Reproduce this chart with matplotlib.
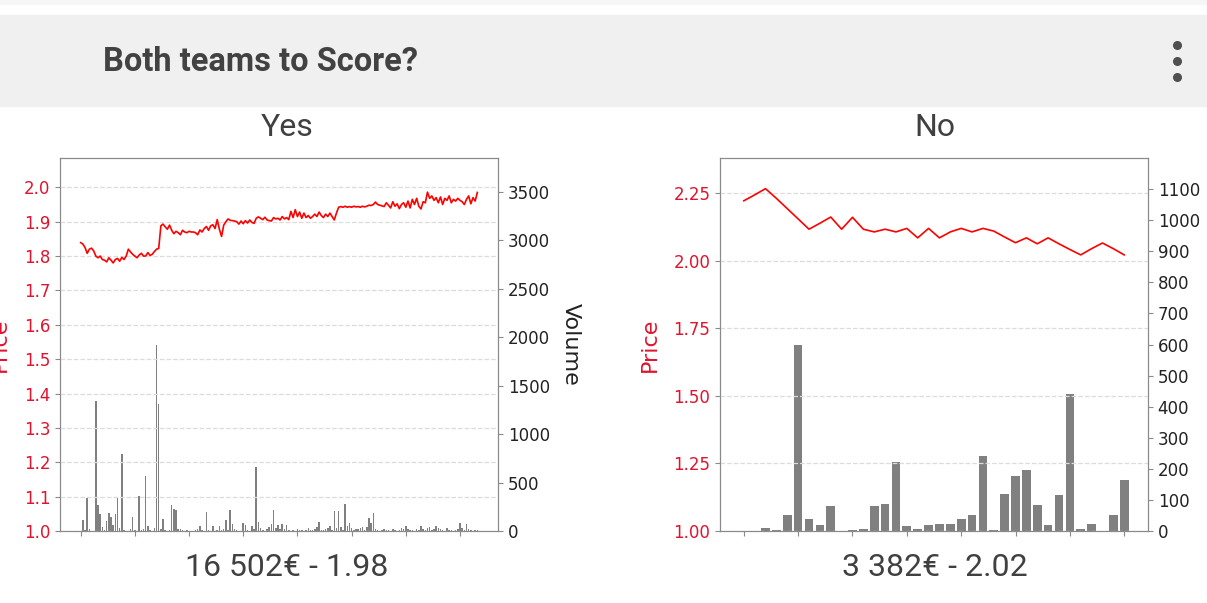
import matplotlib
matplotlib.use("Agg")
import matplotlib.pyplot as plt
from matplotlib.patches import Rectangle
from matplotlib.lines import Line2D

# --- data ---
title = "Both teams to Score?"

yes_name = "Yes"
yes_footer = "16 502€ - 1.98"
yes_price = [
    1.839, 1.835, 1.825, 1.808, 1.820, 1.823, 1.815, 1.800, 1.795, 1.800,
    1.790, 1.788, 1.783, 1.795, 1.788, 1.780, 1.790, 1.793, 1.785, 1.796,
    1.790, 1.800, 1.820, 1.812, 1.805, 1.800, 1.795, 1.803, 1.808, 1.800,
    1.800, 1.810, 1.802, 1.805, 1.813, 1.820, 1.822, 1.888, 1.893, 1.885,
    1.878, 1.890, 1.875, 1.865, 1.872, 1.868, 1.862, 1.875, 1.870, 1.868,
    1.872, 1.870, 1.870, 1.868, 1.862, 1.876, 1.870, 1.880, 1.886, 1.875,
    1.888, 1.891, 1.880, 1.906, 1.878, 1.857, 1.890, 1.900, 1.908, 1.904,
    1.903, 1.902, 1.900, 1.893, 1.902, 1.894, 1.903, 1.896, 1.905, 1.898,
    1.895, 1.910, 1.914, 1.910, 1.906, 1.913, 1.905, 1.903, 1.902, 1.912,
    1.908, 1.910, 1.905, 1.915, 1.908, 1.912, 1.906, 1.930, 1.912, 1.935,
    1.915, 1.928, 1.910, 1.925, 1.912, 1.918, 1.910, 1.915, 1.922, 1.915,
    1.928, 1.918, 1.912, 1.922, 1.915, 1.925, 1.915, 1.905, 1.925, 1.942,
    1.944, 1.942, 1.945, 1.942, 1.944, 1.942, 1.945, 1.943, 1.944, 1.942,
    1.945, 1.943, 1.945, 1.948, 1.947, 1.950, 1.957, 1.950, 1.948, 1.946,
    1.944, 1.955, 1.948, 1.940, 1.958, 1.945, 1.952, 1.938, 1.950, 1.955,
    1.942, 1.960, 1.940, 1.965, 1.950, 1.968, 1.945, 1.937, 1.958, 1.955,
    1.986, 1.968, 1.975, 1.962, 1.970, 1.955, 1.972, 1.950, 1.968, 1.962,
    1.975, 1.955, 1.965, 1.960, 1.968, 1.962, 1.958, 1.950, 1.965, 1.975,
    1.952, 1.970, 1.960, 1.985,
]
yes_volume = [
    0, 110, 10, 340, 20, 5, 0, 1345, 265, 180,
    40, 15, 100, 190, 140, 60, 180, 355, 30, 796,
    10, 5, 0, 20, 142, 10, 0, 360, 15, 20,
    565, 55, 10, 5, 30, 1925, 1315, 20, 124, 10,
    5, 15, 270, 230, 212, 25, 20, 10, 5, 8,
    5, 0, 5, 10, 20, 55, 10, 5, 200, 10,
    5, 55, 5, 15, 52, 10, 20, 110, 15, 215,
    75, 20, 10, 5, 5, 80, 60, 10, 5, 50,
    20, 660, 95, 30, 10, 5, 20, 40, 75, 215,
    30, 65, 20, 70, 20, 60, 10, 5, 15, 5,
    20, 10, 15, 5, 10, 30, 15, 10, 20, 40,
    97, 15, 10, 20, 30, 52, 10, 207, 30, 207,
    40, 10, 283, 50, 86, 30, 10, 20, 25, 30,
    41, 15, 40, 138, 80, 190, 20, 10, 5, 10,
    20, 15, 10, 5, 20, 10, 5, 15, 30, 20,
    52, 25, 10, 15, 5, 20, 15, 50, 20, 10,
    30, 40, 15, 20, 55, 30, 20, 10, 5, 30,
    15, 10, 5, 10, 20, 86, 30, 15, 76, 20,
    10, 5, 10, 15,
]
yes_ticks = [0, 25, 50, 75, 100, 125, 150, 175]
yes_price_ticks = [1.0, 1.1, 1.2, 1.3, 1.4, 1.5, 1.6, 1.7, 1.8, 1.9, 2.0]
yes_volume_ticks = [0, 500, 1000, 1500, 2000, 2500, 3000, 3500]

no_name = "No"
no_footer = "3 382€ - 2.02"
no_price = [
    2.221, 2.243, 2.266, 2.230, 2.192, 2.154, 2.116, 2.138, 2.161, 2.116,
    2.160, 2.116, 2.106, 2.116, 2.106, 2.119, 2.084, 2.119, 2.084, 2.106,
    2.119, 2.106, 2.119, 2.109, 2.087, 2.066, 2.084, 2.062, 2.084, 2.062,
    2.041, 2.021, 2.044, 2.065, 2.044, 2.021,
]
no_volume = [
    1, 1, 9, 4, 53, 600, 40, 18, 80, 0,
    4, 5, 80, 88, 222, 16, 5, 20, 22, 24,
    37, 50, 240, 3, 120, 177, 195, 85, 20, 115,
    440, 8, 24, 0, 50, 165,
]
no_ticks = [0, 5, 10, 15, 20, 25, 30, 35]
no_price_ticks = [1.00, 1.25, 1.50, 1.75, 2.00, 2.25]
no_volume_ticks = list(range(0, 1200, 100))

PRICE_RED = "#e0142e"
TEXT_GREY = "#404040"
SPINE_GREY = "#8a8a8a"

W, H = 1207, 603


def px(x, y):
    """pixel (from top-left) -> figure fraction"""
    return x / W, 1 - y / H


def draw_market(fig, rect, text_x, name, footer, price, volume, xticks,
                price_ticks, price_fmt, volume_ticks, bar_width=0.8):
    ax = fig.add_axes(rect)
    ax2 = ax.twinx()
    xs = list(range(len(price)))

    ax.plot(xs, price, color="red", linewidth=1.2, zorder=3)
    ax2.bar(xs, volume, width=bar_width, color="grey")

    ax.set_ylim(1, max(price) * 1.05)
    ax2.set_ylim(0, max(volume) * 2)

    ax.set_yticks(price_ticks)
    ax.set_yticklabels([price_fmt.format(v) for v in price_ticks])
    ax2.set_yticks(volume_ticks)
    ax.set_xticks(xticks)
    ax.set_xticklabels([])

    ax.grid(axis="y", linestyle="--", color="#dcdcdc", linewidth=0.9)
    ax.tick_params(axis="y", colors=SPINE_GREY, labelcolor=PRICE_RED, labelsize=12)
    ax.tick_params(axis="x", colors=SPINE_GREY)
    ax2.tick_params(axis="y", colors=SPINE_GREY, labelcolor="#222222", labelsize=12)
    for a in (ax, ax2):
        for s in a.spines.values():
            s.set_color(SPINE_GREY)

    ax.set_ylabel("Price", color=PRICE_RED, fontsize=16, labelpad=10)
    ax2.set_ylabel("Volume", color="#222222", fontsize=16, rotation=270, labelpad=22)

    # line axes above the bar axes so the price line stays visible
    ax.set_zorder(ax2.get_zorder() + 1)
    ax.patch.set_visible(False)

    cx = text_x / W
    fig.text(cx, px(0, 128)[1], name, ha="center", va="center",
             fontsize=23, family="Roboto", color=TEXT_GREY)
    fig.text(cx, px(0, 568)[1], footer, ha="center", va="center",
             fontsize=23, family="Roboto", color=TEXT_GREY)
    return ax, ax2


fig = plt.figure(figsize=(W / 100, H / 100), dpi=100)
fig.patch.set_facecolor("white")

# header band
fig.add_artist(Rectangle(px(0, 106), 1, 91 / H, transform=fig.transFigure,
                         color="#f0f0f0", zorder=0))
fig.add_artist(Rectangle(px(0, 4), 1, 4 / H, transform=fig.transFigure,
                         color="#f6f6f6", zorder=0))
fig.text(*px(103, 62), title, ha="left", va="center", fontsize=23.5,
         family="Roboto", weight="bold", color="#424242")
for dot_y in (45, 61, 77):
    fig.add_artist(Line2D([px(1177, dot_y)[0]], [px(1177, dot_y)[1]],
                          marker="o", markersize=5.5, color="#505050",
                          transform=fig.transFigure))

left_rect = [60 / W, 1 - 531 / H, (498 - 60) / W, (531 - 158) / H]
right_rect = [720 / W, 1 - 531 / H, (1148 - 720) / W, (531 - 158) / H]

draw_market(fig, left_rect, 287, yes_name, yes_footer, yes_price, yes_volume,
            yes_ticks, yes_price_ticks, "{:.1f}", yes_volume_ticks, bar_width=0.7)
draw_market(fig, right_rect, 935, no_name, no_footer, no_price, no_volume,
            no_ticks, no_price_ticks, "{:.2f}", no_volume_ticks)

fig.savefig("out.png", dpi=100)
